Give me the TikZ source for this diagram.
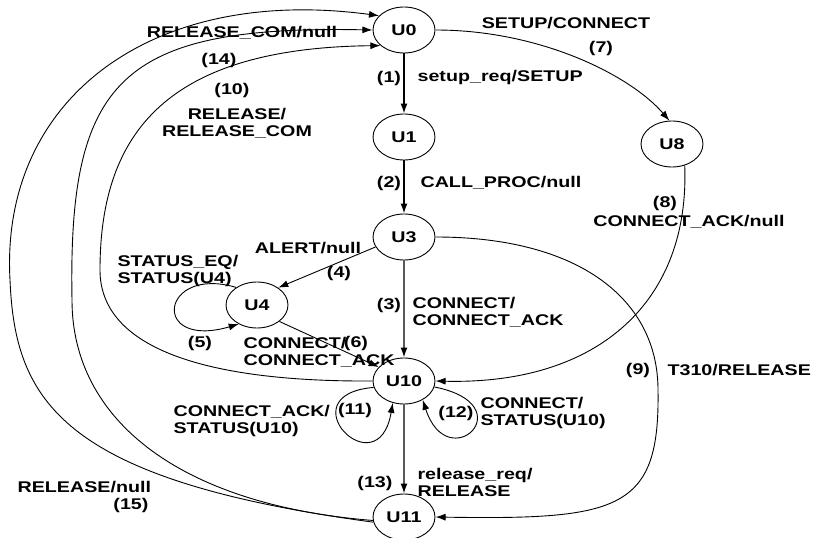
\documentclass[tikz,border=0pt]{standalone}
\usepackage{fontspec}
\setmainfont{Liberation Sans}
\usepackage{tikz}
\usetikzlibrary{shapes,arrows.meta,positioning,calc}

\begin{document}
\begin{tikzpicture}[x=1pt, y=-1pt, line width=0.9pt,
    >={Latex[length=10pt,width=7pt]},
    state/.style={draw, ellipse, xscale=1.27, minimum width=48.8pt, minimum height=46pt, inner sep=0pt, font=\bfseries\fontsize{15.5}{17}\selectfont},
    lbl/.style={xscale=1.27, inner sep=0pt, align=left, font=\bfseries\fontsize{15.5}{17}\selectfont}]
    \useasboundingbox (0,0) rectangle (815,538);
    % states
    \node[state] (u0) at (404,30) {U0};
    \node[state] (u1) at (404,137) {U1};
    \node[state] (u8) at (672,144) {U8};
    \node[state] (u3) at (404,237) {U3};
    \node[state] (u4) at (257,305) {U4};
    \node[state] (u10) at (404,381) {U10};
    \node[state] (u11) at (404,517) {U11};
    % straight transitions
    \draw[->, line width=1.4pt] (u0) -- (u1);
    \draw[->, line width=1.4pt] (u1) -- (u3);
    \draw[->, line width=1.4pt] (u3) -- (u10);
    \draw[->, line width=1.4pt] (u10) -- (u11);
    \draw[->] (u3.204) -- (u4.46);
    \draw[->] (u4.-43) -- (u10.145);
    % loops
    \draw[->] (u4.133) .. controls (160,265) and (150,350) .. (u4.233);
    \draw[->] (u10.195) .. controls (285,395) and (378,490) .. (u10.248);
    \draw[->] (u10.-14) .. controls (525,405) and (448,478) .. (u10.-52);
    % curved transitions
    \draw[->] (u0.east) .. controls (540,30) and (630,75) .. (u8.95);
    \draw[->] (u8.-65) .. controls (690,300) and (600,385) .. (u10.east);
    \draw[->] (u3.east) .. controls (580,237) and (658,300) .. (658,390)
        .. controls (660,510) and (620,520) .. (u11.east);
    \draw[->] (u10.west) .. controls (210,382) and (100,350) .. (100,270)
        .. controls (100,130) and (170,48) .. (u0.220);
    \draw[->] (u11.188) .. controls (180,505) and (72,420) .. (72,300)
        .. controls (68,80) and (120,25) .. (u0.west);
    \draw[->] (u11.192) .. controls (60,480) and (15,400) .. (10,280)
        .. controls (0,100) and (150,-15) .. (u0.144);
    % labels
    \node[lbl] (l14) at (242,33) {RELEASE\_COM/null};
    \node[lbl] (n14) at (219,60) {(14)};
    \node[lbl] (n10) at (232,90) {(10)};
    \node[lbl, align=center] (l10) at (237,123) {RELEASE/\\RELEASE\_COM};
    \node[lbl] (l7) at (566,23) {SETUP/CONNECT};
    \node[lbl] (n7) at (601,48) {(7)};
    \node[lbl] (n1) at (389,78) {(1)};
    \node[lbl, anchor=west] (l1) at (417,77) {setup\_req/SETUP};
    \node[lbl] (n2) at (389,183) {(2)};
    \node[lbl, anchor=west] (l2) at (420,183) {CALL\_PROC/null};
    \node[lbl] (n8) at (665,203) {(8)};
    \node[lbl] (l8) at (689,222) {CONNECT\_ACK/null};
    \node[lbl] (l4) at (308,248) {ALERT/null};
    \node[lbl] (n4) at (339,273) {(4)};
    \node[lbl, anchor=west] (l5) at (117,271) {STATUS\_EQ/\\STATUS(U4)};
    \node[lbl] (n3) at (389,305) {(3)};
    \node[lbl, anchor=west] (l3) at (412,312) {CONNECT/\\CONNECT\_ACK};
    \node[lbl] (n5) at (200,343) {(5)};
    \node[lbl, anchor=west] (l6) at (243,352) {CONNECT/\\CONNECT\_ACK};
    \node[lbl] (n6) at (356,343) {(6)};
    \node[lbl] (n9) at (638,370) {(9)};
    \node[lbl, anchor=west] (l9) at (667,370) {T310/RELEASE};
    \node[lbl, anchor=west] (l11) at (173,421) {CONNECT\_ACK/\\STATUS(U10)};
    \node[lbl] (n11) at (355,410) {(11)};
    \node[lbl] (n12) at (456,413) {(12)};
    \node[lbl, anchor=west] (l12) at (480,413) {CONNECT/\\STATUS(U10)};
    \node[lbl] (n13) at (375,483) {(13)};
    \node[lbl, anchor=west] (l13) at (417,482) {release\_req/\\RELEASE};
    \node[lbl, anchor=west] (l15) at (17,487) {RELEASE/null};
    \node[lbl] (n15) at (131,505) {(15)};
\end{tikzpicture}
\end{document}
